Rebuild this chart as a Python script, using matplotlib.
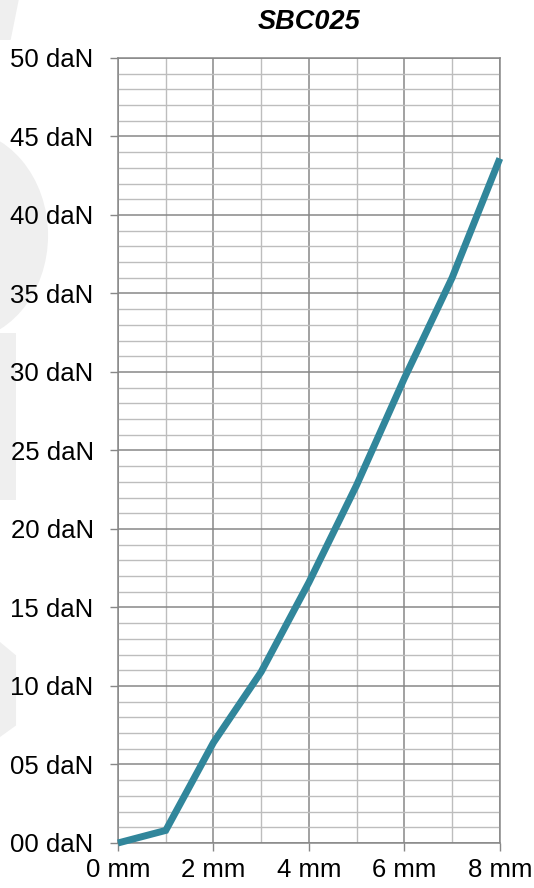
import matplotlib.pyplot as plt
from matplotlib.patches import Polygon, Ellipse
from matplotlib.ticker import MultipleLocator

plt.rcParams["font.family"] = ["Liberation Sans", "DejaVu Sans"]

title = "SBC025"
deflection_mm = [0, 1, 2, 3, 4, 5, 6, 7, 8]
force_dan = [0.0, 0.8, 6.4, 10.9, 16.6, 22.8, 29.6, 36.0, 43.6]
x_ticks = [0, 2, 4, 6, 8]
x_labels = ["0 mm", "2 mm", "4 mm", "6 mm", "8 mm"]
y_ticks = [0, 5, 10, 15, 20, 25, 30, 35, 40, 45, 50]
y_labels = [f"{v:02d} daN" for v in y_ticks]

fig = plt.figure(figsize=(5.34, 8.88), dpi=100)

# faint watermark shapes on the left edge, on a background axes
bg = fig.add_axes([0, 0, 1, 1], zorder=-1)
bg.set_xlim(0, 1)
bg.set_ylim(0, 1)
bg.axis("off")
wm = "#efefef"
bg.add_patch(Ellipse((-0.08, 0.735), 0.34, 0.24, facecolor=wm, edgecolor="none"))
bg.add_patch(Polygon([(0, 1), (0.035, 1), (0.02, 0.955), (0, 0.955)], closed=True,
                     facecolor=wm, edgecolor="none"))
bg.add_patch(Polygon([(0, 0.625), (0.03, 0.625), (0.03, 0.437), (0, 0.437)], closed=True,
                     facecolor=wm, edgecolor="none"))
bg.add_patch(Polygon([(0, 0.277), (0.03, 0.262), (0.03, 0.183), (0, 0.170)], closed=True,
                     facecolor=wm, edgecolor="none"))

ax = fig.add_axes([0.221, 0.0507, 0.715, 0.884])
ax.patch.set_alpha(0)

ax.plot(deflection_mm, force_dan, color="#31869b", linewidth=5,
        solid_capstyle="butt", solid_joinstyle="miter", clip_on=False, zorder=3)

ax.set_xlim(0, 8)
ax.set_ylim(0, 50)
ax.set_xticks(x_ticks)
ax.set_xticklabels(x_labels)
ax.set_yticks(y_ticks)
ax.set_yticklabels(y_labels)
ax.xaxis.set_minor_locator(MultipleLocator(1))
ax.yaxis.set_minor_locator(MultipleLocator(1))

ax.grid(which="major", color="#878787", linewidth=1.1, zorder=1)
ax.grid(which="minor", color="#bdbdbd", linewidth=1.0, zorder=0)
ax.set_axisbelow(True)

ax.tick_params(which="major", direction="out", length=5.5, width=1.0, color="#878787",
               labelsize=18.5, labelcolor="black")
ax.tick_params(axis="y", which="major", pad=12)
ax.tick_params(axis="x", which="major", pad=5)
ax.tick_params(which="minor", length=0)

for s in ax.spines.values():
    s.set_color("#878787")
    s.set_linewidth(1.1)

ax.set_title(title, fontsize=19.5, fontweight="bold", fontstyle="italic", pad=21)

fig.savefig("out.png", dpi=100)
